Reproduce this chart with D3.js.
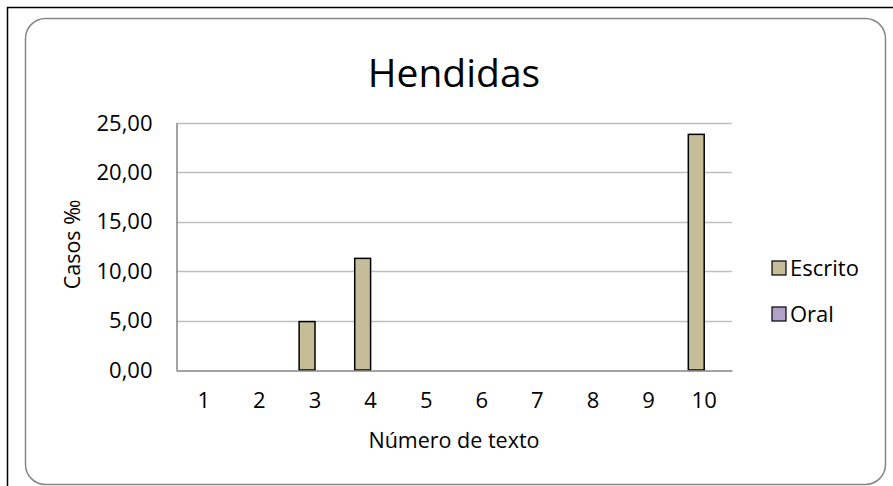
<!DOCTYPE html>
<html>
<head>
<meta charset="utf-8">
<script src="https://cdn.jsdelivr.net/npm/d3@7"></script>
<style>
  html, body { margin: 0; padding: 0; background: #fff; }
  svg { display: block; font-family: "Open Sans", "Noto Sans", sans-serif; }
</style>
</head>
<body>
<svg id="chart" width="893" height="486"></svg>
<script>
// Categories (text number) and per-mille values for each series
const categories = ["1", "2", "3", "4", "5", "6", "7", "8", "9", "10"];
const escrito = [0, 0, 4.9, 11.3, 0, 0, 0, 0, 0, 23.85];
const oral = [0, 0, 0, 0, 0, 0, 0, 0, 0, 0];
const seriesNames = ["Escrito", "Oral"];
const seriesColors = ["#c4bd97", "#b3a2c7"];
const yTicks = [0, 5, 10, 15, 20, 25];

const svg = d3.select("#chart");

// Outer frame (left/top visible) and rounded chart area
svg.append("rect")
  .attr("x", 7.5).attr("y", 7.5).attr("width", 1000).attr("height", 1000)
  .attr("fill", "none").attr("stroke", "#000").attr("stroke-width", 1.5);
svg.append("rect")
  .attr("x", 25.5).attr("y", 18.5).attr("width", 860).attr("height", 466)
  .attr("rx", 20).attr("ry", 20)
  .attr("fill", "#fff").attr("stroke", "#868686").attr("stroke-width", 1.5);

const plot = { left: 176, right: 732, top: 123, bottom: 370 };

const x = d3.scaleBand().domain(categories).range([plot.left, plot.right]);
const x1 = d3.scaleBand().domain(seriesNames)
  .range([0, x.bandwidth()]).paddingInner(0).paddingOuter(0.75);
const y = d3.scaleLinear().domain([0, 25]).range([plot.bottom, plot.top]);

// Horizontal gridlines
svg.append("g")
  .selectAll("line")
  .data(yTicks.filter(d => d > 0))
  .join("line")
  .attr("x1", plot.left).attr("x2", plot.right)
  .attr("y1", d => Math.round(y(d)) + 0.5).attr("y2", d => Math.round(y(d)) + 0.5)
  .attr("stroke", "#bfbfbf").attr("stroke-width", 1.5);

// Y axis
const yAxis = svg.append("g")
  .attr("transform", `translate(${plot.left + 0.5},0)`)
  .call(d3.axisLeft(y).tickValues(yTicks).tickSize(0).tickPadding(24)
    .tickFormat(d => d3.format(".2f")(d).replace(".", ",")));
yAxis.select(".domain").attr("stroke", "#868686").attr("stroke-width", 1.5);
yAxis.selectAll("text").attr("font-size", 22).attr("fill", "#000")
  .attr("font-family", "Open Sans, sans-serif");

// Bars
const data = categories.map((c, i) => ({ cat: c, values: [escrito[i], oral[i]] }));
const groups = svg.append("g").selectAll("g")
  .data(data).join("g")
  .attr("transform", d => `translate(${x(d.cat)},0)`);
groups.selectAll("rect")
  .data(d => d.values.map((v, j) => ({ name: seriesNames[j], v, color: seriesColors[j] })))
  .join("rect")
  .filter(d => d.v > 0)
  .attr("x", d => x1(d.name))
  .attr("width", x1.bandwidth())
  .attr("y", d => y(d.v))
  .attr("height", d => y(0) - y(d.v))
  .attr("fill", d => d.color)
  .attr("stroke", "#000").attr("stroke-width", 1.5);

// X axis
const xAxis = svg.append("g")
  .attr("transform", `translate(0,${plot.bottom + 0.5})`)
  .call(d3.axisBottom(x).tickSize(0).tickPadding(22));
xAxis.select(".domain").attr("stroke", "#868686").attr("stroke-width", 1.5);
xAxis.selectAll("text").attr("font-size", 22).attr("fill", "#000")
  .attr("font-family", "Open Sans, sans-serif");

// Titles
svg.append("text")
  .attr("x", (plot.left + plot.right) / 2).attr("y", 87)
  .attr("text-anchor", "middle").attr("font-size", 39).attr("fill", "#000")
  .text("Hendidas");
svg.append("text")
  .attr("x", (plot.left + plot.right) / 2).attr("y", 448)
  .attr("text-anchor", "middle").attr("font-size", 21.5).attr("fill", "#000")
  .text("Número de texto");
svg.append("text")
  .attr("transform", `translate(80,${(plot.top + plot.bottom) / 2 - 2}) rotate(-90)`)
  .attr("text-anchor", "middle").attr("font-size", 21.5).attr("fill", "#000")
  .text("Casos ‰");

// Legend
const legend = svg.append("g").attr("transform", "translate(772,261)");
const items = legend.selectAll("g").data(seriesNames).join("g")
  .attr("transform", (d, i) => `translate(0,${i * 46})`);
items.append("rect")
  .attr("width", 14).attr("height", 14)
  .attr("fill", (d, i) => seriesColors[i])
  .attr("stroke", "#000").attr("stroke-width", 1.2);
items.append("text")
  .attr("x", 18).attr("y", 15)
  .attr("font-size", 22).attr("fill", "#000")
  .text(d => d);
</script>
</body>
</html>
